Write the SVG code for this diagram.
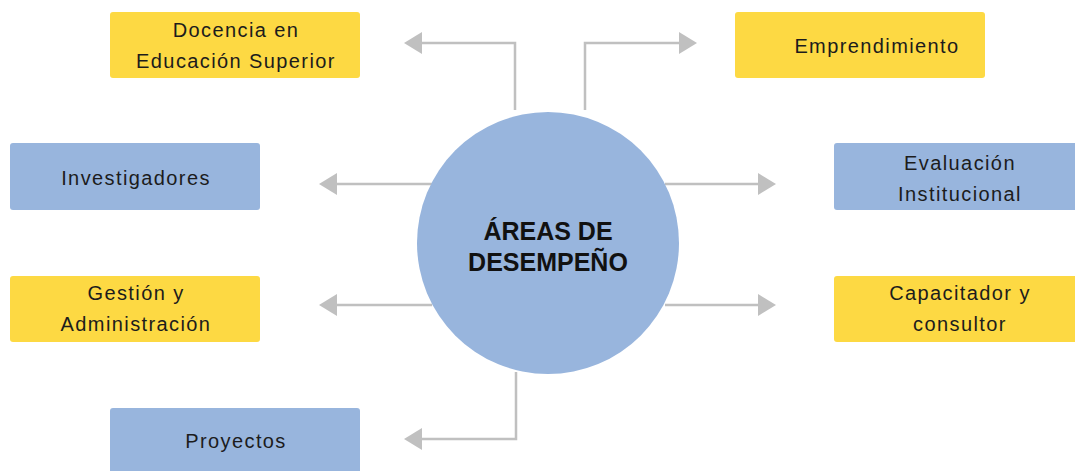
<svg xmlns="http://www.w3.org/2000/svg" width="1075" height="471" viewBox="0 0 1075 471">
<style>
.y{fill:#FDD943}
.b{fill:#98B5DD}
.t{font-family:"Liberation Sans",Arial,sans-serif;font-size:20px;letter-spacing:1.4px;fill:#1c1c1c;text-anchor:middle}
.h{font-family:"Liberation Sans",Arial,sans-serif;font-size:25px;font-weight:bold;fill:#111;text-anchor:middle}
.c{fill:none;stroke:#C0C0C0;stroke-width:2.5}
</style>
<defs>
<marker id="ah" viewBox="0 0 18 22" refX="0" refY="11" markerWidth="18" markerHeight="22" markerUnits="userSpaceOnUse" orient="auto">
<path d="M0,0 L18,11 L0,22 Z" fill="#C0C0C0"/>
</marker>
</defs>
<rect width="1075" height="471" fill="#fff"/>
<g id="connectors">
<path class="c" d="M515,110 V43 H422" marker-end="url(#ah)"/>
<path class="c" d="M585,110 V43 H679" marker-end="url(#ah)"/>
<path class="c" d="M432,184 H337" marker-end="url(#ah)"/>
<path class="c" d="M432,305 H337" marker-end="url(#ah)"/>
<path class="c" d="M665,184 H758" marker-end="url(#ah)"/>
<path class="c" d="M665,305 H758" marker-end="url(#ah)"/>
<path class="c" d="M516,372 V439 H422" marker-end="url(#ah)"/>
</g>
<g id="center">
<circle cx="548" cy="243" r="131" class="b"/>
<text class="h" x="548" y="240">ÁREAS DE</text>
<text class="h" x="548" y="271">DESEMPEÑO</text>
</g>
<g id="docencia">
<rect class="y" x="110" y="12" width="250" height="66" rx="3"/>
<text class="t" x="236" y="37">Docencia en</text>
<text class="t" x="236" y="68">Educación Superior</text>
</g>
<g id="emprendimiento">
<rect class="y" x="735" y="12" width="250" height="66" rx="3"/>
<text class="t" x="877" y="53">Emprendimiento</text>
</g>
<g id="investigadores">
<rect class="b" x="10" y="143" width="250" height="67" rx="3"/>
<text class="t" x="136" y="185">Investigadores</text>
</g>
<g id="gestion">
<rect class="y" x="10" y="276" width="250" height="66" rx="3"/>
<text class="t" x="136" y="300">Gestión y</text>
<text class="t" x="136" y="331">Administración</text>
</g>
<g id="evaluacion">
<rect class="b" x="834" y="143" width="250" height="67" rx="3"/>
<text class="t" x="960" y="170">Evaluación</text>
<text class="t" x="960" y="201">Institucional</text>
</g>
<g id="capacitador">
<rect class="y" x="834" y="276" width="250" height="66" rx="3"/>
<text class="t" x="960" y="300">Capacitador y</text>
<text class="t" x="960" y="331">consultor</text>
</g>
<g id="proyectos">
<rect class="b" x="110" y="408" width="250" height="70" rx="3"/>
<text class="t" x="236" y="448">Proyectos</text>
</g>
</svg>
